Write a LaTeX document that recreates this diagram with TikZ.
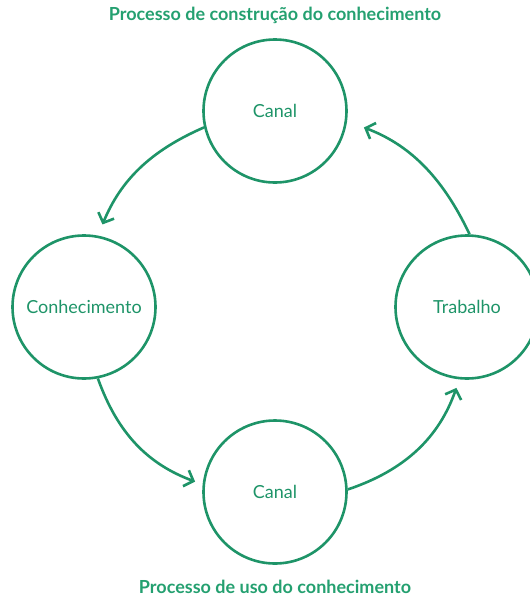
\documentclass[tikz,border=0pt]{standalone}
\usepackage{fontspec}
\setmainfont{Lato}
\usetikzlibrary{arrows.meta}
\definecolor{cycleColor}{RGB}{30,148,104}
\definecolor{titleColor}{RGB}{36,160,112}
\tikzstyle{cycleDiagram} = [x = 1pt, y = -1pt]
\tikzstyle{stageStyle} = [circle, draw=cycleColor, line width=2.6pt, minimum size=143pt, inner sep=0pt, text=cycleColor, font=\fontsize{18}{20}\selectfont]
\tikzstyle{flowArrow} = [draw=cycleColor, line width=2.6pt, -{Straight Barb[length=8pt, width=17pt, line width=2.6pt]}]
\tikzstyle{titleText} = [text=titleColor, font=\fontsize{18}{21}\selectfont\bfseries]

\begin{document}
\begin{tikzpicture}[cycleDiagram]
  \useasboundingbox (0,0) rectangle (530,598);
  \node [titleText] (topTitle) at (275,15) {Processo de construção do conhecimento};
  \node [titleText] (bottomTitle) at (275,587) {Processo de uso do conhecimento};

  \node [stageStyle] (canalTop) at (275,111) {Canal};
  \node [stageStyle] (conhecimento) at (84,307) {Conhecimento};
  \node [stageStyle] (trabalho) at (467,307) {Trabalho};
  \node [stageStyle] (canalBottom) at (275,492) {Canal};

  \draw [flowArrow, shorten >=12pt] (canalTop.193) to [bend right=22] (conhecimento.79);
  \draw [flowArrow, shorten >=8pt] (conhecimento.281) to [bend right=25] (canalBottom.174);
  \draw [flowArrow, shorten >=9pt] (canalBottom.2) to [bend right=26] (trabalho.264);
  \draw [flowArrow, shorten >=18pt] (trabalho.88) to [bend right=22] (canalTop.352);
\end{tikzpicture}
\end{document}
